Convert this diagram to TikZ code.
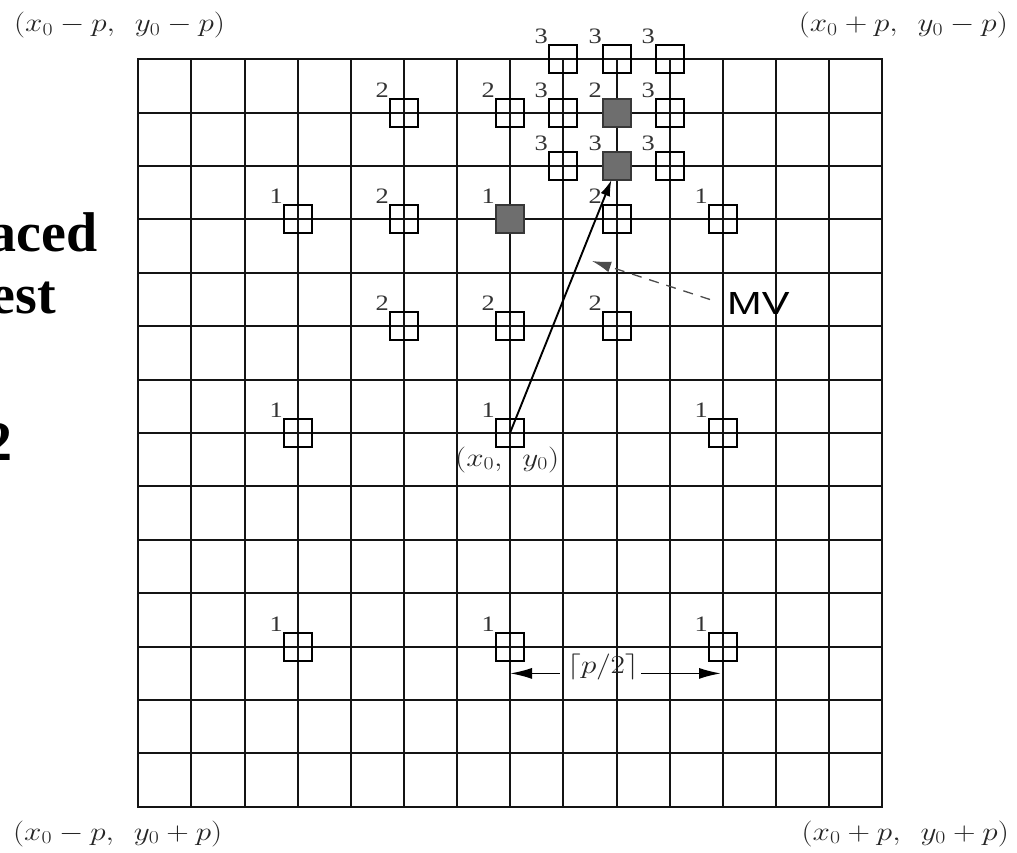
\RequirePackage{fix-cm}
\documentclass[tikz,border=0pt]{standalone}
\usepackage{fontspec}
\usepackage{graphicx}
\usetikzlibrary{arrows.meta}
\newfontfamily\timesfont{Liberation Serif}
\newfontfamily\arialfont{Liberation Sans}
\newcommand\hs[1]{\scalebox{1.2}[1]{#1}}
% grid line positions (pixels), rounded to whole pixels
\newcommand\GX[1]{round(138.3+53.15*(#1))}
\newcommand\GY[1]{round(59.3+53.4*(#1))}
\begin{document}
\begin{tikzpicture}[x=1pt,y=-1pt,
  gridline/.style={line width=2pt, black!92},
  mk/.style={draw=black, line width=1.7pt, minimum size=28pt, inner sep=0pt, outer sep=0pt},
  mkbest/.style={mk, fill=black!57, draw=black!78},
  num/.style={font=\timesfont\fontsize{22}{22}\selectfont, text=black!80, inner sep=1pt, anchor=south east},
  mathlbl/.style={font=\fontsize{26}{26}\selectfont, text=black!85, inner sep=0pt},
  bigbold/.style={font=\timesfont\bfseries\fontsize{56}{56}\selectfont, inner sep=0pt, anchor=base east},
  mainarrow/.style={line width=1.9pt, -{Latex[length=16pt,width=10pt]}},
  mvarrow/.style={line width=1.3pt, black!70, dash pattern=on 10pt off 8pt, -{Latex[length=19pt,width=11pt]}},
  dimarrow/.style={line width=1.6pt, -{Latex[length=22pt,width=11pt]}},
]
\useasboundingbox (0,0) rectangle (1017,853);
\clip (0,0) rectangle (1017,853);
\fill[white] (0,0) rectangle (1017,853);

% left cut-off bold text
\node[bigbold] (t1) at (98,251.7) {aced};
\node[bigbold] (t2) at (56,313) {est};
\node[bigbold] (t3) at (13,460) {2};

% corner labels
\node[mathlbl, anchor=base west] (tl) at (14,32) {\hs{$(x_0-p,\ \,y_0-p)$}};
\node[mathlbl, anchor=base east] (tr) at (1008,32) {\hs{$(x_0+p,\ \,y_0-p)$}};
\node[mathlbl, anchor=base west] (bl) at (13,840) {\hs{$(x_0-p,\ \,y_0+p)$}};
\node[mathlbl, anchor=base east] (br) at (1009,840) {\hs{$(x_0+p,\ \,y_0+p)$}};

% grid
\foreach \i in {1,...,13} {
  \draw[gridline] ({\GX{\i}},{\GY{0}}) -- ({\GX{\i}},{\GY{14}});
  \draw[gridline] ({\GX{0}},{\GY{\i}}) -- ({\GX{14}},{\GY{\i}});
}
\draw[gridline] ({\GX{0}},{\GY{0}}) rectangle ({\GX{14}},{\GY{14}});

% empty search points
\foreach \c/\r/\s in {3/3/1, 11/3/1, 3/7/1, 7/7/1, 11/7/1, 3/11/1, 7/11/1, 11/11/1,
    5/1/2, 7/1/2, 5/3/2, 9/3/2, 5/5/2, 7/5/2, 9/5/2,
    8/0/3, 9/0/3, 10/0/3, 8/1/3, 10/1/3, 8/2/3, 10/2/3} {
  \node[mk] (m\c-\r) at ({\GX{\c}},{\GY{\r}}) {};
  \node[num] (n\c-\r) at (m\c-\r.north west) {\hs{\s}};
}
% best points of each step
\foreach \c/\r/\s in {7/3/1, 9/1/2, 9/2/3} {
  \node[mkbest] (m\c-\r) at ({\GX{\c}},{\GY{\r}}) {};
  \node[num] (n\c-\r) at (m\c-\r.north west) {\hs{\s}};
}
\coordinate (dl) at ({\GX{7}},673.4);
\coordinate (dr) at ({\GX{11}-2},673.4);

% motion vector
\draw[mainarrow] (m7-7.center) -- (m9-2);

% centre label
\node[mathlbl, anchor=base west] (c0) at (455,466) {\hs{$(x_0,\ \,y_0)$}};

% MV label and dashed pointer
\node[font=\arialfont\fontsize{32}{32}\selectfont, inner sep=0pt, anchor=west] (mv) at (727,303.5) {\scalebox{1.3}[1]{MV}};
\coordinate (mvtip) at (592,261);
\draw[mvarrow] ([shift={(-17pt,4pt)}]mv.west) -- (mvtip);

% step size dimension
\node[mathlbl, anchor=base] (dim) at (603,673.4) {\hs{$\lceil p/2\rceil$}};
\draw[dimarrow] ([xshift=-7pt]dim.base west) -- (dl);
\draw[dimarrow] ([xshift=2pt]dim.base east) -- (dr);
\end{tikzpicture}
\end{document}
